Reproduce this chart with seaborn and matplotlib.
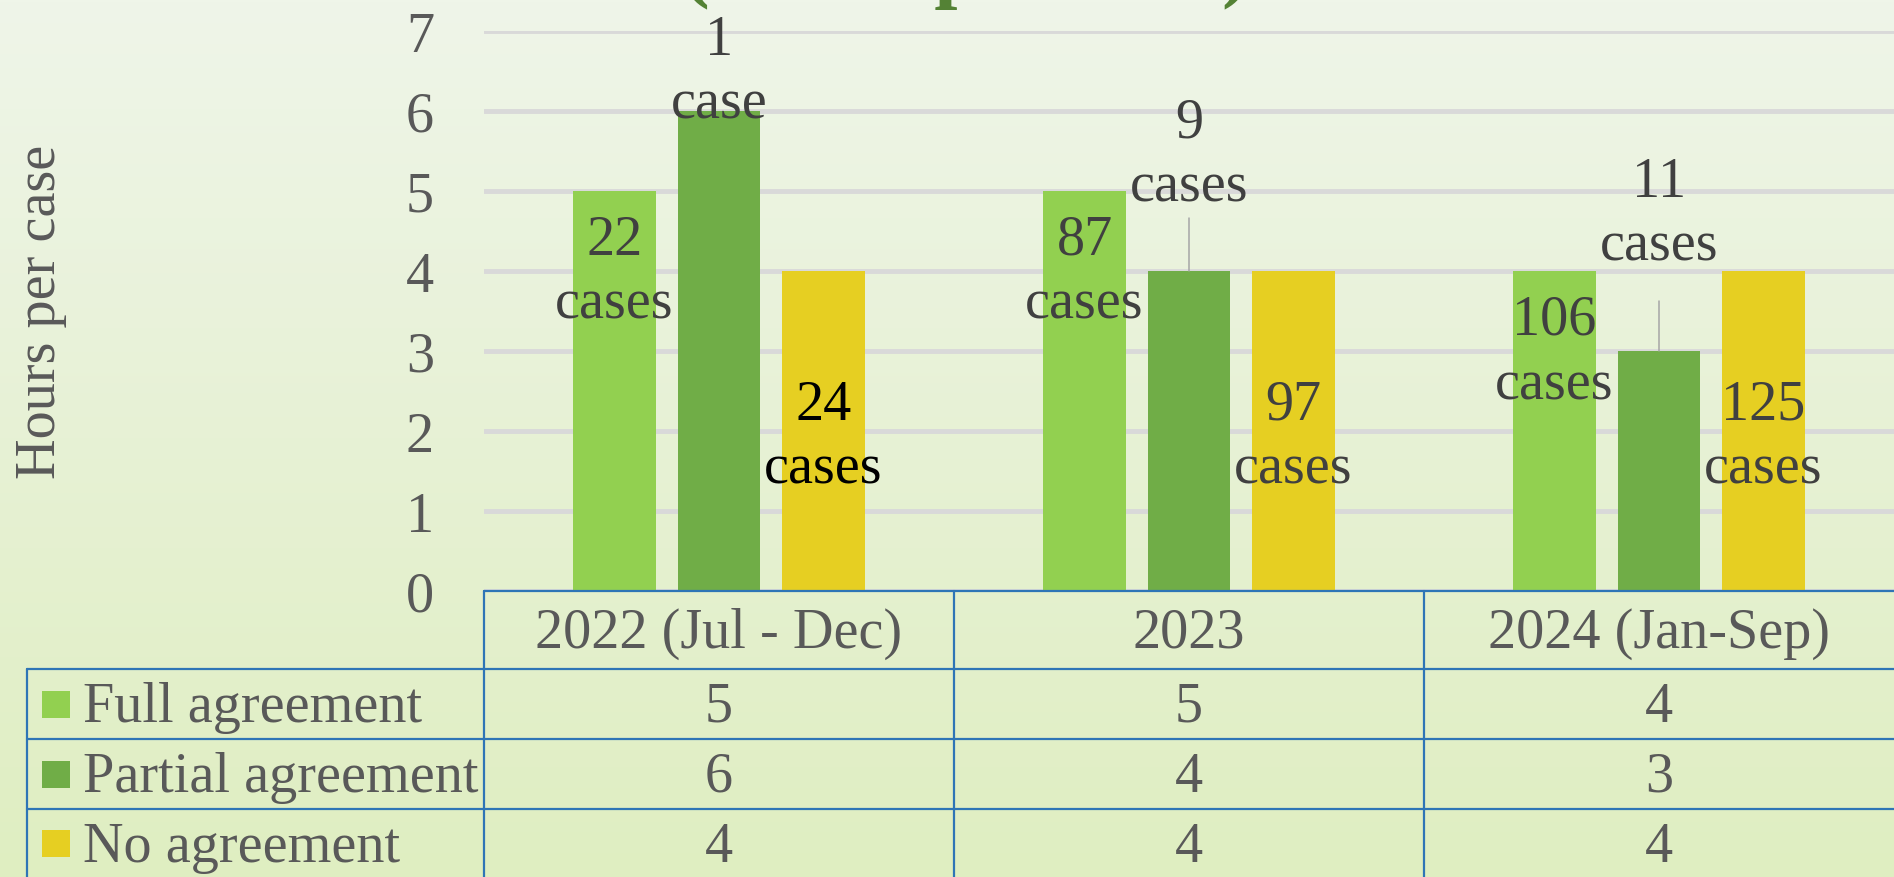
import numpy as np
import pandas as pd
import matplotlib
matplotlib.use("Agg")
import matplotlib.pyplot as plt
import seaborn as sns
from matplotlib.transforms import blended_transform_factory
from matplotlib.patches import Rectangle

# ---------------- data ----------------
periods = ["2022 (Jul - Dec)", "2023", "2024 (Jan-Sep)"]
series = ["Full agreement", "Partial agreement", "No agreement"]
full_hours = [5, 5, 4]
partial_hours = [6, 4, 3]
none_hours = [4, 4, 4]
full_cases = [22, 87, 106]
partial_cases = [1, 9, 11]
none_cases = [24, 97, 125]
y_ticks = [0, 1, 2, 3, 4, 5, 6, 7]
title_text = "(hours per case)"
y_label = "Hours per case"

# ---------------- style / layout ----------------
colors = ["#92D050", "#70AD47", "#E6CF22"]
W, H, DPI = 1894, 878, 100
FS = 40.5
TXT = "#595959"
LBL = "#404040"
TABLE_C = "#2E75B6"

sns.set_theme(style="white")
plt.rcParams["font.family"] = ["Liberation Serif", "DejaVu Serif"]

fig = plt.figure(figsize=(W / DPI, H / DPI), dpi=DPI)

# background gradient
bg = fig.add_axes([0, 0, 1, 1], zorder=-10)
top_c = np.array([0xEF, 0xF5, 0xE9]) / 255.0
bot_c = np.array([0xDF, 0xEE, 0xC1]) / 255.0
t = np.linspace(0, 1, 256)[:, None]
grad = (top_c[None, :] * (1 - t) + bot_c[None, :] * t).reshape(256, 1, 3)
bg.imshow(grad, aspect="auto", extent=[0, 1, 0, 1], origin="upper")
bg.set_axis_off()

# main axes
AX_L, AX_TOP, AX_BOT = 484, 32, 592
ax = fig.add_axes([AX_L / W, (H - AX_BOT) / H, (W - AX_L) / W, (AX_BOT - AX_TOP) / H])
ax.patch.set_alpha(0)

rows = []
for s, vals in zip(series, [full_hours, partial_hours, none_hours]):
    for p, v in zip(periods, vals):
        rows.append({"period": p, "series": s, "hours": v})
df = pd.DataFrame(rows)

sns.barplot(data=df, x="period", y="hours", hue="series", order=periods,
            hue_order=series, palette=colors, width=0.667, gap=0.215,
            saturation=1, linewidth=0, legend=False, ax=ax, zorder=3)

ax.set_xlim(-0.5, 2.5)
ax.set_ylim(0, 7)
ax.set_yticks(y_ticks)
ax.set_yticklabels([str(v) for v in y_ticks], fontsize=FS, color=TXT)
ax.tick_params(axis="y", length=0, pad=36)
ax.tick_params(axis="x", length=0, labelbottom=False)
ax.set_xlabel("")
ax.set_ylabel(y_label, fontsize=FS, color=TXT)
ax.yaxis.label.set(ha="center", va="center", rotation_mode="default")
ax.yaxis.set_label_coords((41 - AX_L) / (W - AX_L), 0.5)
ax.yaxis.grid(True, color="#D9D9D9", linewidth=3.5, zorder=0)
ax.set_axisbelow(True)
for sp in ax.spines.values():
    sp.set_visible(False)

# ---------------- data labels ----------------
LINE_GAP = 0.8  # data units between label lines
partial_offsets = [0.7125, 1.675, 1.9375]
leader_tops = [None, 4.6625, 3.625]
case_lists = [full_cases, partial_cases, none_cases]
for j, cont in enumerate(ax.containers):
    for i, bar in enumerate(cont):
        cx = bar.get_x() + bar.get_width() / 2
        h = bar.get_height()
        n = case_lists[j][i]
        word = "case" if n == 1 else "cases"
        col = LBL
        if j == 0:
            yb = h - 0.7875
        elif j == 1:
            yb = h + partial_offsets[i]
            if leader_tops[i] is not None:
                ax.plot([cx, cx], [h, leader_tops[i]], color="#A6A6A6", lw=1.1,
                        zorder=4, clip_on=False)
        else:
            yb = h / 2 + 0.15
            if i == 0:
                col = "#000000"
        ax.text(cx, yb, str(n), ha="center", va="baseline", fontsize=FS,
                color=col, zorder=6, clip_on=False)
        ax.text(cx, yb - LINE_GAP, word, ha="center", va="baseline", fontsize=FS,
                color=col, zorder=6, clip_on=False)

# ---------------- overlay (table, legend, title) ----------------
ov = fig.add_axes([0, 0, 1, 1], zorder=5)
ov.set_xlim(0, W)
ov.set_ylim(H, 0)
ov.set_axis_off()
ov.patch.set_alpha(0)

bt = blended_transform_factory(ax.transData, ov.transData)

TAB_L = 27
HDR_TOP, ROW_TOPS, ROW_H = 592, [670, 740, 810], 70
TAB_BOT = 880
lw_t = 1.6
# horizontal lines
ov.plot([AX_L, W], [HDR_TOP, HDR_TOP], color=TABLE_C, lw=lw_t, clip_on=False)
for yt in ROW_TOPS + [TAB_BOT]:
    ov.plot([TAB_L, W], [yt, yt], color=TABLE_C, lw=lw_t, clip_on=False)
# vertical lines
ov.plot([TAB_L, TAB_L], [ROW_TOPS[0], TAB_BOT], color=TABLE_C, lw=lw_t, clip_on=False)
for xb in [-0.5, 0.5, 1.5]:
    ov.plot([xb, xb], [HDR_TOP, TAB_BOT], color=TABLE_C, lw=lw_t,
            transform=bt, clip_on=False)

# header
for i, p in enumerate(periods):
    ov.text(i, HDR_TOP + 56, p, transform=bt, ha="center", va="baseline",
            fontsize=FS, color=TXT)

# rows
for r, (s, vals, c) in enumerate(zip(series, [full_hours, partial_hours, none_hours], colors)):
    top = ROW_TOPS[r]
    ov.add_patch(Rectangle((42, top + 35 - 13.5), 28, 27, facecolor=c, edgecolor="none"))
    ov.text(83, top + 52, s, ha="left", va="baseline", fontsize=FS, color=TXT)
    for i, v in enumerate(vals):
        ov.text(i, top + 52, str(v), transform=bt, ha="center", va="baseline",
                fontsize=FS, color=TXT)

# title (mostly cut off at the top edge, as in the reference)
ov.text(966, -8, title_text, ha="center", va="baseline", fontsize=60,
        fontweight="bold", color="#548235", clip_on=False)

fig.savefig("out.png", dpi=DPI)
